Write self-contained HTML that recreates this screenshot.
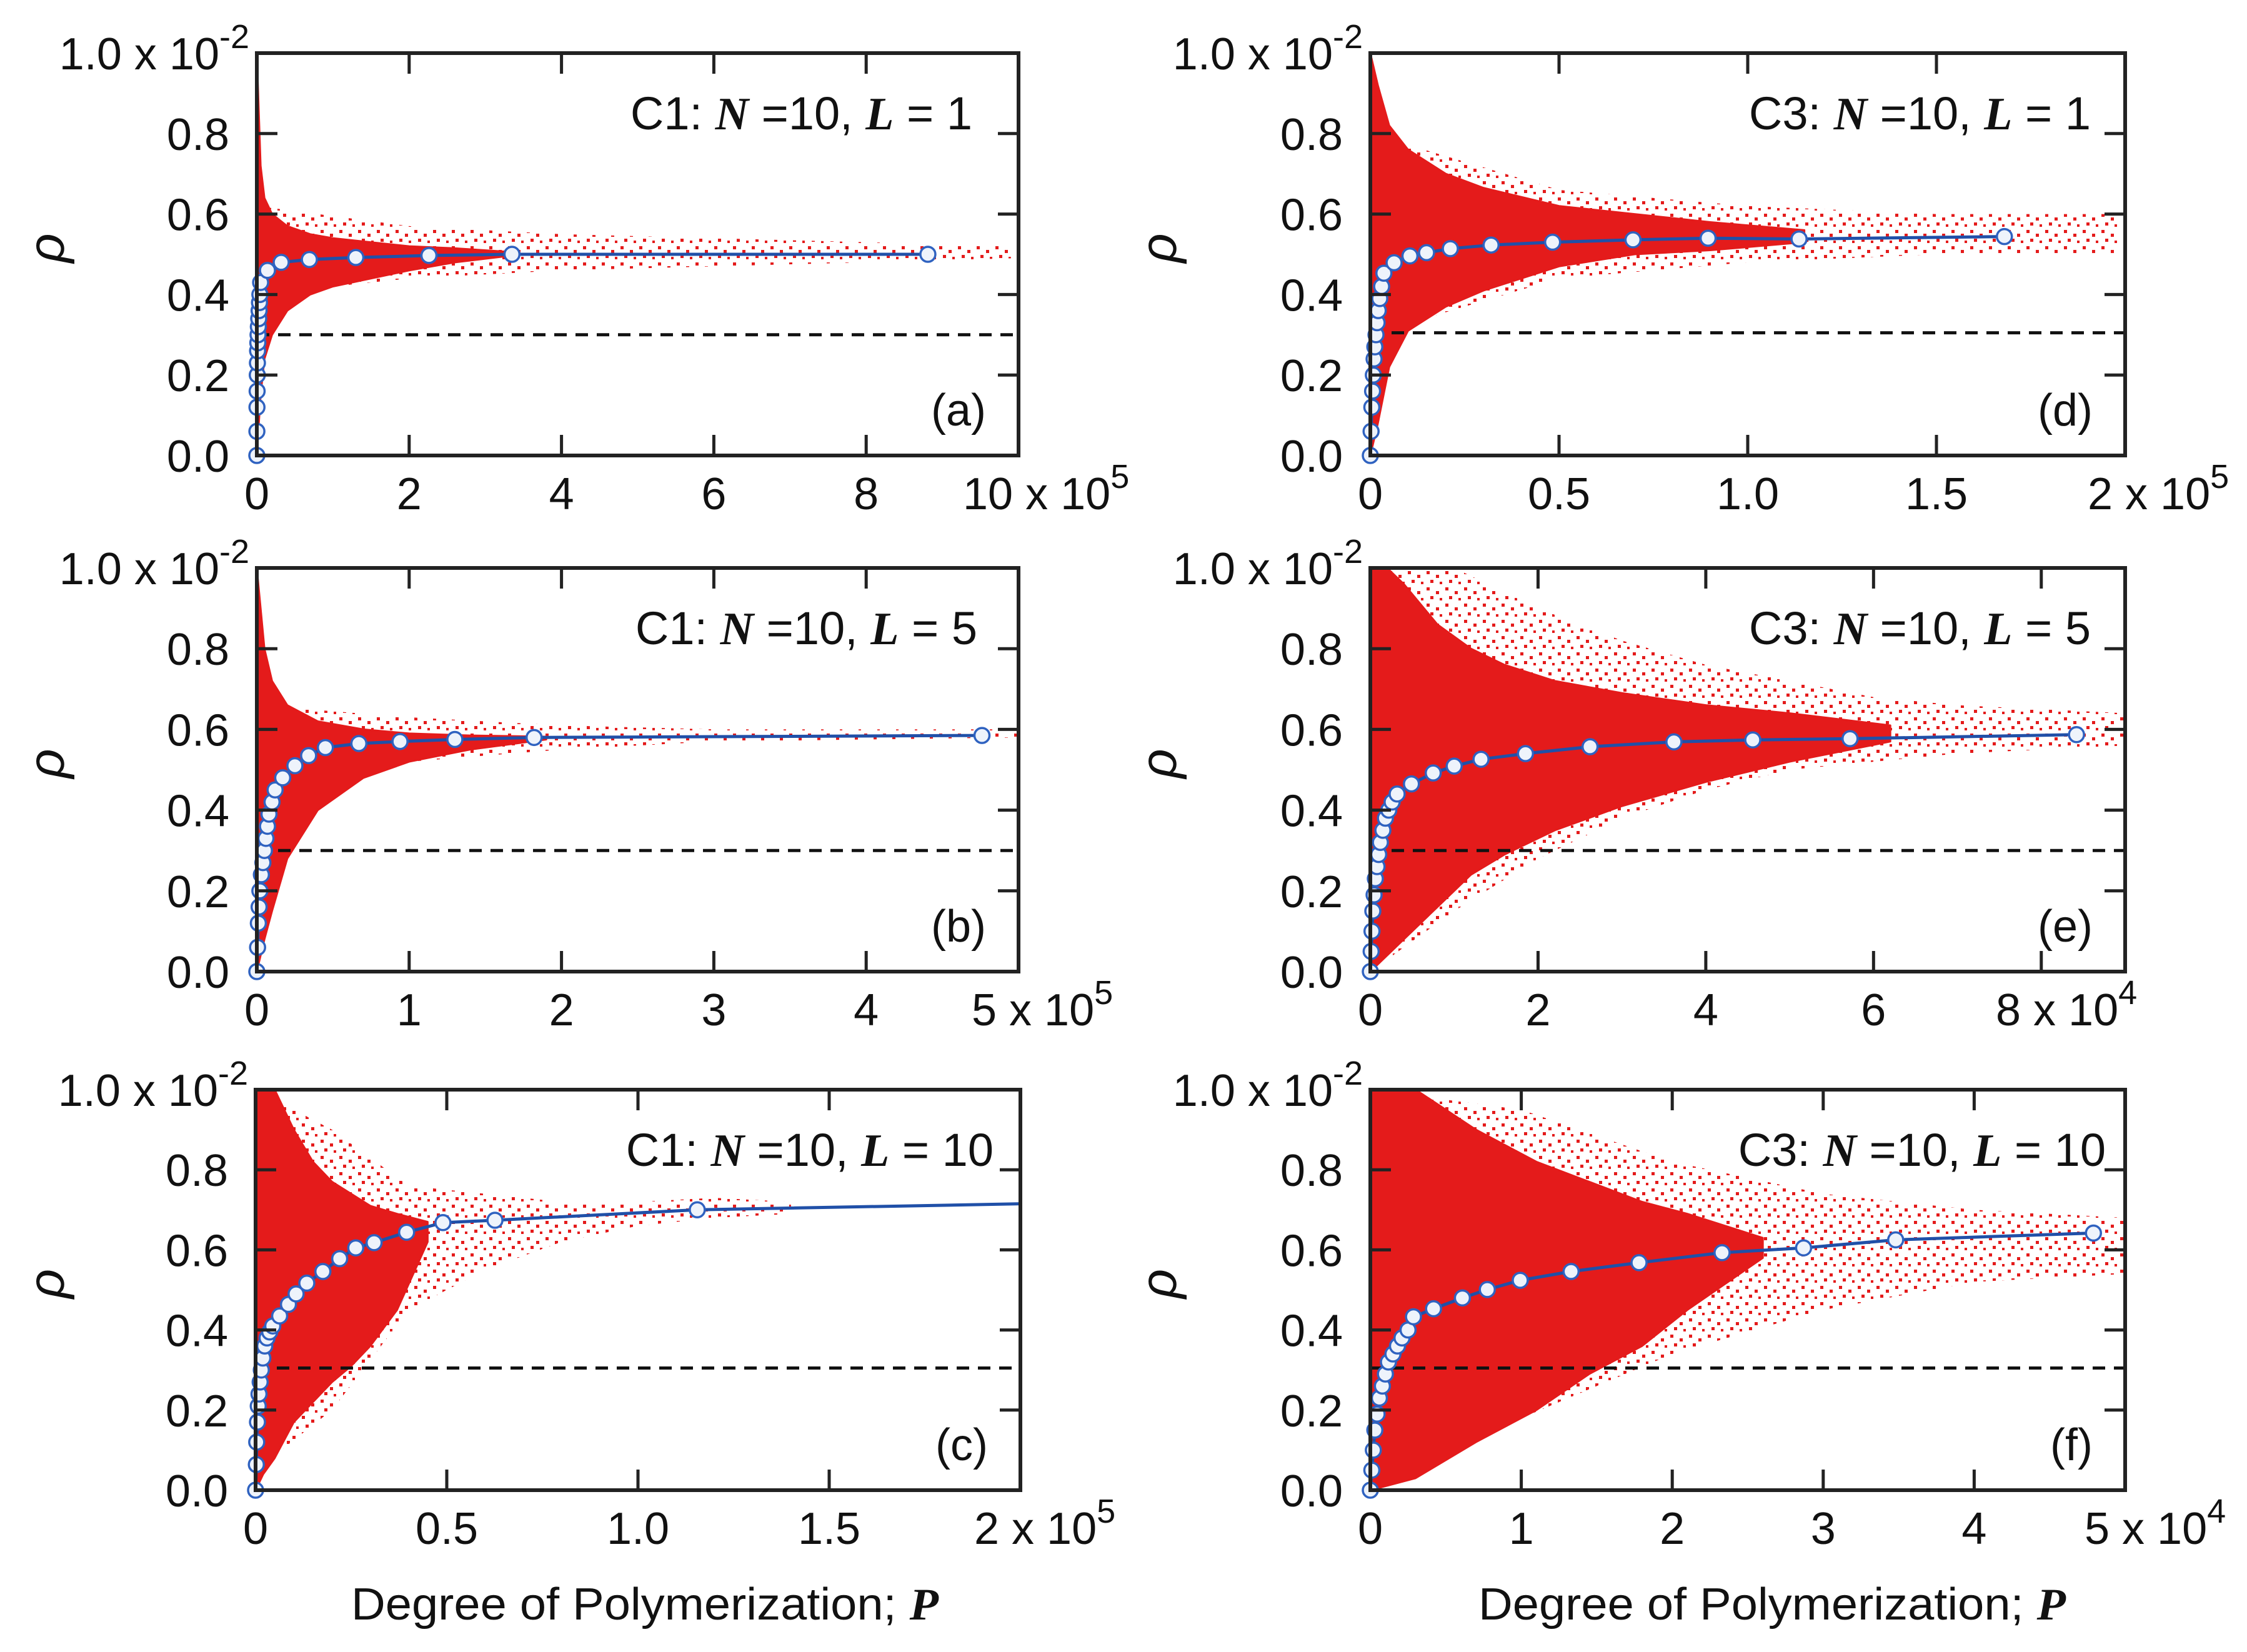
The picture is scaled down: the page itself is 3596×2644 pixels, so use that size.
<!DOCTYPE html>
<html><head><meta charset="utf-8"><style>
html,body{margin:0;padding:0;background:#fff;}
svg{display:block;}
text{font-family:"Liberation Sans",Arial,sans-serif;fill:#111;}
</style></head><body>
<svg id="fig" xmlns="http://www.w3.org/2000/svg" width="3596" height="2644" viewBox="0 0 3596 2644">
<defs>
<pattern id="sparse" width="30" height="26" patternUnits="userSpaceOnUse">
<rect x="3" y="4" width="5" height="5" fill="#e41b1b"/>
<rect x="18" y="10" width="5" height="5" fill="#e41b1b"/>
<rect x="9" y="18" width="5" height="5" fill="#e41b1b"/>
<rect x="24" y="21" width="4" height="4" fill="#e41b1b"/>
</pattern>
</defs>
</svg>
<script>
// ---- data (x in units of the axis multiplier, rho in units of 1e-2) ----
const panelIds = ['a','b','c','d','e','f'];
const xMaxA = 10, xMaxB = 5, xMaxC = 2, xMaxD = 2, xMaxE = 9, xMaxF = 5;
const xTicksA = [0,2,4,6,8], xTicksB = [0,1,2,3,4], xTicksC = [0,0.5,1.0,1.5], xTicksD = [0,0.5,1.0,1.5], xTicksE = [0,2,4,6,8], xTicksF = [0,1,2,3,4];
const xTickLabelsA = ['0','2','4','6','8'], xTickLabelsB = ['0','1','2','3','4'], xTickLabelsC = ['0','0.5','1.0','1.5'], xTickLabelsD = ['0','0.5','1.0','1.5'], xTickLabelsE = ['0','2','4','6',''], xTickLabelsF = ['0','1','2','3','4'];
const lastLabelA = ['10','5'], lastLabelB = ['5','5'], lastLabelC = ['2','5'], lastLabelD = ['2','5'], lastLabelE = ['8','4'], lastLabelF = ['5','4'];
const yTicks = [0,0.2,0.4,0.6,0.8];
const yTickLabels = ['0.0','0.2','0.4','0.6','0.8'];
const threshold = [0.3,0.3,0.305,0.305,0.3,0.305];
const annCase = ['C1','C1','C1','C3','C3','C3'];
const annL = ['1','5','10','1','5','10'];

// blue mean curve markers
const markP_a = [0,0.001,0.002,0.004,0.006,0.008,0.01,0.013,0.016,0.02,0.025,0.03,0.035,0.04,0.05,0.14,0.32,0.69,1.30,2.26,3.35,8.81];
const markR_a = [0,0.06,0.12,0.16,0.2,0.23,0.26,0.28,0.3,0.32,0.34,0.36,0.38,0.40,0.43,0.46,0.48,0.487,0.492,0.497,0.50,0.50];
const markP_b = [0,0.005,0.01,0.015,0.02,0.03,0.04,0.05,0.06,0.07,0.08,0.1,0.12,0.17,0.25,0.34,0.45,0.67,0.94,1.30,1.82,4.76];
const markR_b = [0,0.06,0.12,0.16,0.2,0.24,0.27,0.3,0.33,0.36,0.39,0.42,0.45,0.48,0.51,0.535,0.555,0.565,0.57,0.575,0.58,0.585];
const markP_c = [0,0.002,0.003,0.005,0.007,0.009,0.012,0.015,0.019,0.024,0.03,0.037,0.045,0.063,0.086,0.106,0.134,0.176,0.22,0.262,0.31,0.395,0.49,0.626,1.155,2.0];
const markR_c = [0,0.064,0.12,0.17,0.21,0.24,0.27,0.3,0.33,0.36,0.38,0.395,0.41,0.435,0.464,0.49,0.517,0.546,0.578,0.605,0.618,0.644,0.668,0.674,0.70,0.715];
const markP_d = [0,0.002,0.004,0.006,0.008,0.01,0.012,0.015,0.018,0.021,0.025,0.03,0.036,0.063,0.105,0.149,0.212,0.32,0.483,0.696,0.895,1.136,1.68];
const markR_d = [0,0.06,0.12,0.16,0.2,0.24,0.27,0.3,0.33,0.36,0.39,0.42,0.453,0.479,0.496,0.504,0.514,0.523,0.53,0.536,0.54,0.538,0.544];
const markP_e = [0,0.01,0.02,0.03,0.045,0.06,0.08,0.1,0.12,0.15,0.18,0.22,0.26,0.32,0.49,0.75,1.0,1.32,1.85,2.62,3.62,4.56,5.72,8.42];
const markR_e = [0,0.05,0.1,0.15,0.19,0.23,0.26,0.29,0.32,0.35,0.38,0.40,0.42,0.44,0.465,0.492,0.509,0.526,0.54,0.557,0.569,0.574,0.577,0.587];
const markP_f = [0,0.01,0.02,0.03,0.045,0.06,0.08,0.1,0.12,0.15,0.18,0.21,0.25,0.286,0.419,0.61,0.775,0.993,1.33,1.78,2.33,2.87,3.48,4.79];
const markR_f = [0,0.05,0.1,0.15,0.19,0.23,0.26,0.29,0.32,0.34,0.36,0.38,0.40,0.433,0.453,0.48,0.501,0.524,0.546,0.568,0.593,0.605,0.625,0.642];
const markCount = [22,22,25,23,24,24]; // panel c last point is line-only

// dense scatter envelope
const denseP_a = [0,0.05,0.1,0.2,0.4,0.7,1.0,1.5,2.0,2.6,3.4];
const denseHi_a = [1.0,0.72,0.64,0.6,0.57,0.55,0.54,0.53,0.52,0.515,0.505];
const denseLo_a = [0.0,0.15,0.24,0.3,0.36,0.4,0.42,0.44,0.46,0.48,0.498];
const denseP_b = [0,0.05,0.1,0.2,0.4,0.7,1.0,1.4,1.9];
const denseHi_b = [1.0,0.8,0.72,0.66,0.62,0.6,0.59,0.585,0.582];
const denseLo_b = [0,0.08,0.15,0.28,0.4,0.48,0.52,0.55,0.575];
const denseP_c = [0,0.02,0.05,0.1,0.15,0.2,0.25,0.3,0.37,0.45];
const denseHi_c = [1.0,1.0,1.0,0.9,0.82,0.77,0.74,0.71,0.69,0.67];
const denseLo_c = [0,0.04,0.08,0.17,0.22,0.27,0.31,0.36,0.45,0.62];
const denseP_d = [0,0.02,0.05,0.1,0.2,0.3,0.5,0.7,0.9,1.15];
const denseHi_d = [1.0,0.92,0.82,0.76,0.7,0.665,0.62,0.6,0.58,0.56];
const denseLo_d = [0,0.08,0.22,0.31,0.37,0.41,0.47,0.5,0.51,0.53];
const denseP_e = [0,0.2,0.4,0.8,1.2,1.6,2.2,3.0,4.0,5.0,6.2];
const denseHi_e = [1.0,1.0,0.96,0.86,0.8,0.76,0.72,0.69,0.66,0.64,0.61];
const denseLo_e = [0,0.04,0.08,0.16,0.24,0.29,0.35,0.41,0.47,0.52,0.57];
const denseP_f = [0,0.3,0.7,1.1,1.45,1.8,2.1,2.6];
const denseHi_f = [1.0,1.0,0.9,0.82,0.77,0.72,0.69,0.63];
const denseLo_f = [0,0.03,0.12,0.2,0.29,0.36,0.45,0.58];

// sparse outer envelope
const sparseP_a = [0,2,4,6,8,9.9];
const sparseHi_a = [0.62,0.57,0.55,0.54,0.53,0.52];
const sparseLo_a = [0.4,0.44,0.46,0.47,0.48,0.49];
const sparseP_b = [0,1,2,3,4,5];
const sparseHi_b = [0.66,0.63,0.61,0.6,0.6,0.6];
const sparseLo_b = [0.45,0.52,0.55,0.57,0.575,0.58];
const sparseP_c = [0,0.2,0.4,0.6,0.8,1.0,1.2,1.4];
const sparseHi_c = [1.0,0.9,0.76,0.74,0.72,0.72,0.73,0.72];
const sparseLo_c = [0.05,0.2,0.45,0.55,0.62,0.66,0.68,0.69];
const sparseP_d = [0,0.5,1.0,1.5,1.98];
const sparseHi_d = [0.8,0.66,0.62,0.6,0.6];
const sparseLo_d = [0.3,0.44,0.48,0.5,0.5];
const sparseP_e = [0,1,2,3,4,5,6,7,8,9];
const sparseHi_e = [1.0,1.0,0.9,0.82,0.76,0.72,0.68,0.66,0.65,0.64];
const sparseLo_e = [0,0.15,0.28,0.38,0.45,0.5,0.52,0.54,0.55,0.56];
const sparseP_f = [0,1,2,3,4,5];
const sparseHi_f = [1.0,0.95,0.82,0.74,0.7,0.68];
const sparseLo_f = [0,0.18,0.34,0.45,0.52,0.54];

// ---- layout (pixels) ----
const layout = {
 a:{l:411,r:1630,t:85,b:729, last:1541, annX:1556, rhoX:80},
 b:{l:411,r:1630,t:909,b:1555, last:1555, annX:1564, rhoX:80},
 c:{l:409,r:1633,t:1744,b:2385, last:1559, annX:1590, rhoX:80},
 d:{l:2193,r:3401,t:85,b:729, last:3341, annX:3346, rhoX:1860},
 e:{l:2193,r:3401,t:909,b:1555, last:3194, annX:3346, rhoX:1860},
 f:{l:2193,r:3401,t:1744,b:2385, last:3336, annX:3370, rhoX:1860}
};
const D = {
 a:{xMax:xMaxA,xt:xTicksA,xl:xTickLabelsA,last:lastLabelA,mp:markP_a,mr:markR_a,dp:denseP_a,dh:denseHi_a,dl:denseLo_a,sp:sparseP_a,sh:sparseHi_a,sl:sparseLo_a},
 b:{xMax:xMaxB,xt:xTicksB,xl:xTickLabelsB,last:lastLabelB,mp:markP_b,mr:markR_b,dp:denseP_b,dh:denseHi_b,dl:denseLo_b,sp:sparseP_b,sh:sparseHi_b,sl:sparseLo_b},
 c:{xMax:xMaxC,xt:xTicksC,xl:xTickLabelsC,last:lastLabelC,mp:markP_c,mr:markR_c,dp:denseP_c,dh:denseHi_c,dl:denseLo_c,sp:sparseP_c,sh:sparseHi_c,sl:sparseLo_c},
 d:{xMax:xMaxD,xt:xTicksD,xl:xTickLabelsD,last:lastLabelD,mp:markP_d,mr:markR_d,dp:denseP_d,dh:denseHi_d,dl:denseLo_d,sp:sparseP_d,sh:sparseHi_d,sl:sparseLo_d},
 e:{xMax:xMaxE,xt:xTicksE,xl:xTickLabelsE,last:lastLabelE,mp:markP_e,mr:markR_e,dp:denseP_e,dh:denseHi_e,dl:denseLo_e,sp:sparseP_e,sh:sparseHi_e,sl:sparseLo_e},
 f:{xMax:xMaxF,xt:xTicksF,xl:xTickLabelsF,last:lastLabelF,mp:markP_f,mr:markR_f,dp:denseP_f,dh:denseHi_f,dl:denseLo_f,sp:sparseP_f,sh:sparseHi_f,sl:sparseLo_f}
};

const NS='http://www.w3.org/2000/svg';
const svg=document.getElementById('fig');
function mk(tag,attrs,parent){const e=document.createElementNS(NS,tag);for(const k in attrs)e.setAttribute(k,attrs[k]);(parent||svg).appendChild(e);return e;}
function envPath(P,Hi,Lo,xs,ys){
 let d='M'+xs(P[0])+','+ys(Hi[0]);
 for(let i=1;i<P.length;i++)d+=' L'+xs(P[i])+','+ys(Hi[i]);
 for(let i=P.length-1;i>=0;i--)d+=' L'+xs(P[i])+','+ys(Lo[i]);
 return d+' Z';
}

panelIds.forEach((id,pi)=>{
 const L=layout[id], d=D[id];
 const xs=v=>L.l+(v/d.xMax)*(L.r-L.l);
 const ys=v=>L.b-v*(L.b-L.t);
 const g=mk('g',{});
 
 
 const cp=mk('clipPath',{id:'clip-'+id},g);
 mk('rect',{x:L.l,y:L.t,width:L.r-L.l,height:L.b-L.t},cp);
 const plot=mk('g',{'clip-path':'url(#clip-'+id+')'},g);
 const sp=mk('path',{d:envPath(d.sp,d.sh,d.sl,xs,ys),fill:'url(#sparse)'},plot);
 
 
 const dn=mk('path',{d:envPath(d.dp,d.dh,d.dl,xs,ys),fill:'#e41b1b','stroke':'#e41b1b','stroke-width':3,'stroke-linejoin':'round'},plot);
 
 
 const th=mk('line',{x1:L.l,x2:L.r,y1:ys(threshold[pi]),y2:ys(threshold[pi]),stroke:'#111','stroke-width':5,'stroke-dasharray':'20 14'},plot);
 
 
 const pts=d.mp.map((p,i)=>xs(p)+','+ys(d.mr[i])).join(' ');
 const ln=mk('polyline',{points:pts,fill:'none',stroke:'#2050a8','stroke-width':5},plot);
 
 
 for(let i=0;i<markCount[pi];i++){
  const c=mk('circle',{cx:xs(d.mp[i]),cy:ys(d.mr[i]),r:12,fill:'#eef3fb',stroke:'#2f62c0','stroke-width':3.5},g);
  
  
 }
 const fr=mk('rect',{x:L.l,y:L.t,width:L.r-L.l,height:L.b-L.t,fill:'none',stroke:'#222','stroke-width':6},g);
 
 
 d.xt.forEach((v,i)=>{
  if(v>0){
   mk('line',{x1:xs(v),x2:xs(v),y1:L.b,y2:L.b-33,stroke:'#222','stroke-width':5},g);
   mk('line',{x1:xs(v),x2:xs(v),y1:L.t,y2:L.t+33,stroke:'#222','stroke-width':5},g);
  }
  const t=mk('text',{x:xs(v),y:L.b+86,'font-size':72,'text-anchor':'middle'},g);
  t.textContent=d.xl[i];
  
  
 });
 const lt=mk('text',{x:L.last,y:L.b+86,'font-size':72},g);
 
 
 lt.appendChild(document.createTextNode(d.last[0]+' x 10'));
 const ls=mk('tspan',{dy:-34,'font-size':54},lt); ls.textContent=d.last[1];
 yTicks.forEach((v,i)=>{
  if(v>0){
   mk('line',{x1:L.l,x2:L.l+33,y1:ys(v),y2:ys(v),stroke:'#222','stroke-width':5},g);
   mk('line',{x1:L.r,x2:L.r-33,y1:ys(v),y2:ys(v),stroke:'#222','stroke-width':5},g);
  }
  const t=mk('text',{x:L.l-44,y:ys(v)+26,'font-size':72,'text-anchor':'end'},g);
  t.textContent=yTickLabels[i];
  
  
 });
 const yt=mk('text',{x:L.l-12,y:L.t+26,'font-size':72,'text-anchor':'end'},g);
 
 
 yt.appendChild(document.createTextNode('1.0 x 10'));
 const ysup=mk('tspan',{dy:-34,'font-size':54},yt); ysup.textContent='-2';
 const rl=mk('text',{x:0,y:0,'font-size':82,'font-style':'italic','font-family':'Liberation Serif, serif','text-anchor':'middle',transform:'translate('+(L.rhoX+22)+','+((L.t+L.b)/2-10)+') rotate(-90)'},g);
 rl.textContent='ρ';
 
 
 const an=mk('text',{x:L.annX,y:L.t+122,'font-size':74,'text-anchor':'end'},g);
 
 
 an.appendChild(document.createTextNode(annCase[pi]+': '));
 const n=mk('tspan',{'font-family':'Liberation Serif, serif','font-style':'italic','font-weight':'bold'},an); n.textContent='N';
 an.appendChild(document.createTextNode(' =10, '));
 const l2=mk('tspan',{'font-family':'Liberation Serif, serif','font-style':'italic','font-weight':'bold'},an); l2.textContent='L';
 an.appendChild(document.createTextNode(' = '+annL[pi]));
 const pl=mk('text',{x:L.r-52,y:L.b-48,'font-size':72,'text-anchor':'end'},g);
 pl.textContent='('+id+')';
 
 
});

[[1032,'x-axis-title-left'],[2836,'x-axis-title-right']].forEach(([cx,name])=>{
 const t=mk('text',{x:cx,y:2592,'font-size':72,'text-anchor':'middle',textLength:940,lengthAdjust:'spacingAndGlyphs'});
 
 
 t.appendChild(document.createTextNode('Degree of Polymerization; '));
 const p=mk('tspan',{'font-family':'Liberation Serif, serif','font-style':'italic','font-weight':'bold'},t); p.textContent='P';
});
</script>
</body></html>
